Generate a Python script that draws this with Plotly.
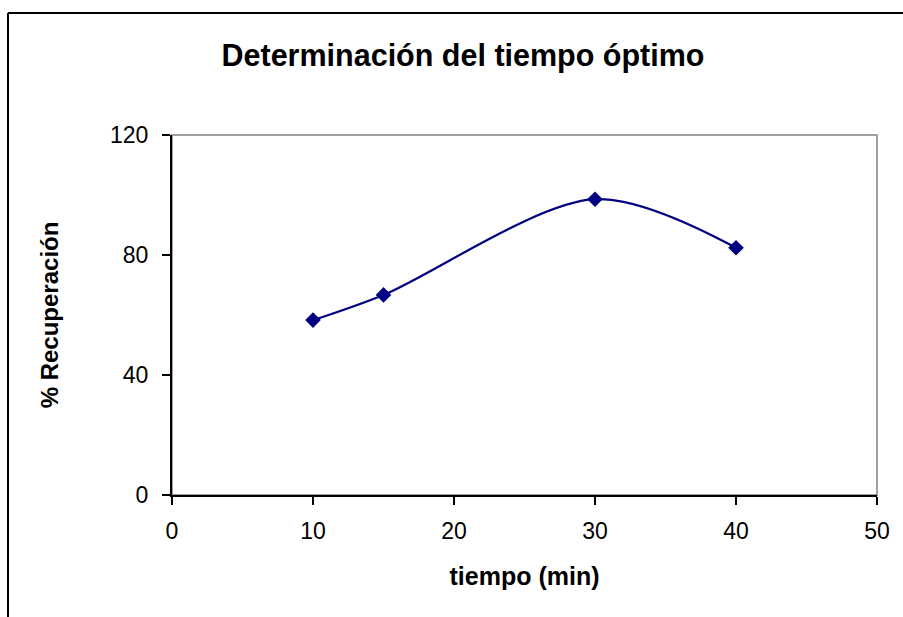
import plotly.graph_objects as go

tiempo = [10, 15, 30, 40]
recuperacion = [58.3, 66.7, 98.6, 82.4]
x_ticks = [0, 10, 20, 30, 40, 50]
y_ticks = [0, 40, 80, 120]

W, H = 903, 617
L, R, T, B = 172, 877, 135, 495

fig = go.Figure()
fig.add_trace(go.Scatter(
    x=tiempo, y=recuperacion, mode="lines+markers",
    line=dict(color="#000080", width=2.2, shape="spline", smoothing=0.9),
    marker=dict(symbol="diamond", size=12, color="#000080"),
    showlegend=False,
))

def px(xp):
    return (xp - L) / (R - L)

def py(yp):
    return (B - yp) / (B - T)

shapes = [
    # plot area gray frame (top/right)
    dict(type="rect", xref="paper", yref="paper", x0=0, y0=0, x1=1, y1=1,
         line=dict(color="#a0a0a0", width=2), layer="below"),
    # outer chart frame (left and top edges visible)
    dict(type="line", xref="paper", yref="paper", x0=px(8), y0=py(13), x1=px(910), y1=py(13),
         line=dict(color="black", width=2)),
    dict(type="line", xref="paper", yref="paper", x0=px(8), y0=py(13), x1=px(8), y1=py(630),
         line=dict(color="black", width=2)),
]

fig.update_layout(
    width=W, height=H,
    margin=dict(l=L, r=W - R, t=T, b=H - B, autoexpand=False),
    paper_bgcolor="white", plot_bgcolor="white",
    font=dict(family="Liberation Sans, Arial, sans-serif", color="black"),
    title=dict(text="<b>Determinación del tiempo óptimo</b>", x=463 / W, xref="container",
               xanchor="center", y=1 - 55 / H, yref="container", yanchor="middle",
               font=dict(size=30.5, color="black")),
    shapes=shapes,
    xaxis=dict(range=[0, 50], tickvals=x_ticks, ticktext=[str(v) for v in x_ticks],
               showgrid=False, zeroline=False, showline=True, linecolor="black", linewidth=2,
               ticks="outside", ticklen=8, tickwidth=2, tickcolor="black",
               tickfont=dict(size=23), ticklabelstandoff=6,
               title=dict(text="<b>tiempo (min)</b>", font=dict(size=25), standoff=25)),
    yaxis=dict(range=[0, 120], tickvals=y_ticks, ticktext=[str(v) for v in y_ticks],
               showgrid=False, zeroline=False, showline=True, linecolor="black", linewidth=2,
               ticks="outside", ticklen=8, tickwidth=2, tickcolor="black",
               tickfont=dict(size=23), ticklabelstandoff=9,
               title=dict(text="<b>% Recuperación</b>", font=dict(size=24), standoff=45)),
)

fig.write_html("out.html")
